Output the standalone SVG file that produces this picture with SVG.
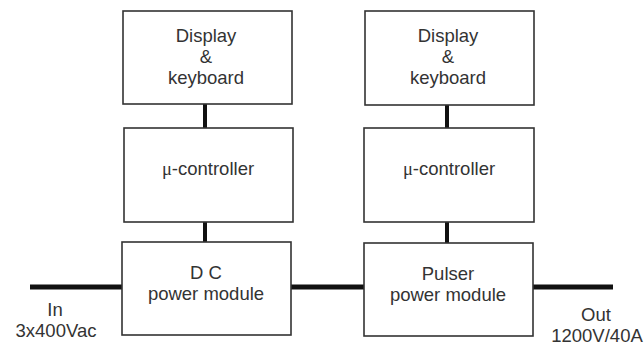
<svg xmlns="http://www.w3.org/2000/svg" width="644" height="345" viewBox="0 0 644 345">
<style>
.box{fill:#fff;stroke:#333;stroke-width:1.6}
.t{font-family:"Liberation Sans",Arial,sans-serif;font-size:18.5px;fill:#333;text-anchor:middle}
.mu{font-family:"Liberation Serif","Times New Roman",serif}
.bus{stroke:#111;stroke-width:5;fill:none}
.link{stroke:#111;stroke-width:4;fill:none}
</style>
<rect width="644" height="345" fill="#fff"/>
<g id="connectors">
<line class="bus" x1="30" y1="287" x2="122" y2="287"/>
<line class="bus" x1="291" y1="287" x2="364" y2="287"/>
<line class="bus" x1="533" y1="287" x2="613" y2="287"/>
<line class="link" x1="205" y1="104" x2="205" y2="128"/>
<line class="link" x1="205" y1="222" x2="205" y2="242"/>
<line class="link" x1="447" y1="105" x2="447" y2="128"/>
<line class="link" x1="447" y1="222" x2="447" y2="243"/>
</g>
<g id="display-left">
<rect class="box" x="123" y="11" width="169" height="93"/>
<text class="t" x="206" y="42">Display</text>
<text class="t" x="206" y="63">&amp;</text>
<text class="t" x="206" y="84">keyboard</text>
</g>
<g id="controller-left">
<rect class="box" x="124" y="128" width="169" height="94"/>
<text class="t" x="208" y="175"><tspan class="mu">μ</tspan>-controller</text>
</g>
<g id="dc-module">
<rect class="box" x="122" y="242" width="169" height="93"/>
<text class="t" x="206" y="279">D C</text>
<text class="t" x="206" y="300">power module</text>
</g>
<g id="display-right">
<rect class="box" x="365" y="11" width="169" height="94"/>
<text class="t" x="448" y="42">Display</text>
<text class="t" x="448" y="63">&amp;</text>
<text class="t" x="448" y="84">keyboard</text>
</g>
<g id="controller-right">
<rect class="box" x="364" y="128" width="170" height="94"/>
<text class="t" x="449" y="175"><tspan class="mu">μ</tspan>-controller</text>
</g>
<g id="pulser-module">
<rect class="box" x="364" y="243" width="169" height="93"/>
<text class="t" x="448" y="280">Pulser</text>
<text class="t" x="448" y="301">power module</text>
</g>
<g id="input-label">
<text class="t" x="55" y="316">In</text>
<text class="t" x="56" y="337">3x400Vac</text>
</g>
<g id="output-label">
<text class="t" x="596" y="321">Out</text>
<text class="t" x="597" y="342">1200V/40A</text>
</g>
</svg>
